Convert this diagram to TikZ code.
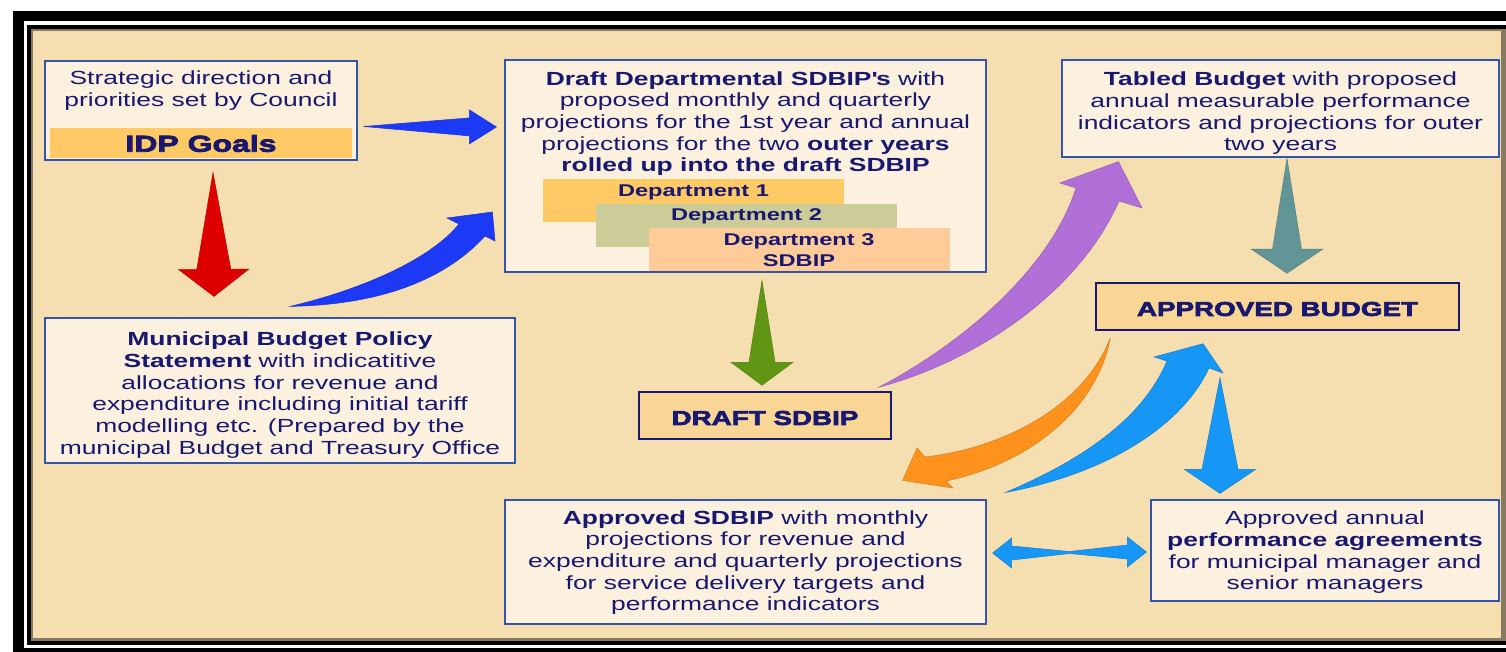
\documentclass[tikz,border=0pt]{standalone}
\usepackage{fontspec}
\setmainfont{Liberation Sans}[FakeStretch=1.39]
\newfontfamily\heavyfont{Liberation Sans}[FakeStretch=1.39,FakeBold=3.5]
\usetikzlibrary{calc,positioning}

\definecolor{pagebeige}{RGB}{245,222,176}
\definecolor{boxcream}{RGB}{251,241,222}
\definecolor{boxline}{RGB}{52,84,170}
\definecolor{navytext}{RGB}{24,24,112}
\definecolor{goalorange}{RGB}{255,201,102}
\definecolor{deptolive}{RGB}{204,204,153}
\definecolor{deptpeach}{RGB}{255,204,153}
\definecolor{keyorange}{RGB}{250,214,150}
\definecolor{royalblue}{RGB}{28,58,245}
\definecolor{skyblue}{RGB}{22,150,245}
\definecolor{arrowred}{RGB}{222,0,0}
\definecolor{arrowgreen}{RGB}{96,150,20}
\definecolor{arrowteal}{RGB}{98,150,150}
\definecolor{arrowpurple}{RGB}{176,112,216}
\definecolor{arroworange}{RGB}{255,146,28}

\tikzset{
  infobox/.style={draw=boxline, fill=boxcream, line width=1.2pt, inner sep=0pt},
  keybox/.style={draw=navytext, fill=keyorange, line width=1.5pt, inner sep=0pt,
    text=navytext, font=\heavyfont\bfseries\fontsize{20}{24}\selectfont,
    execute at begin node={\rule{0pt}{19pt}}},
  bodytext/.style={inner sep=0pt, align=center, text=navytext,
    font=\fontsize{19}{21.7}\selectfont},
  deptbar/.style={inner sep=0pt, minimum width=301pt, minimum height=43pt},
  deptname/.style={inner sep=0pt, align=center, text=navytext,
    font=\bfseries\fontsize{17}{21}\selectfont},
  blockfill/.style={fill=#1, draw=#1!85!black, line width=0.5pt},
}

% tapered block arrow: colour, tail, tip, shaft half width, head half width, head length
\newcommand{\fatarrow}[6]{%
  \coordinate (hb) at ($(#3)!#6!(#2)$);
  \filldraw[blockfill=#1] (#2) -- ($(hb)!#4!90:(#3)$) -- ($(hb)!#5!90:(#3)$) -- (#3)
    -- ($(hb)!#5!-90:(#3)$) -- ($(hb)!#4!-90:(#3)$) -- cycle;}

\begin{document}
\begin{tikzpicture}[x=1pt,y=-1pt]
    \useasboundingbox (0,0) rectangle (1506,652);

    % frame
    \fill[white] (0,0) rectangle (1506,652);
    \fill[black] (13,11) rectangle (1506,652);
    \fill[white] (24,21) rectangle (1506,648);
    \fill[black] (27,25) rectangle (1506,645);
    \fill[black!45!pagebeige] (31,29) rectangle (1506,641);
    \fill[pagebeige] (33,31) rectangle (1501,638);

    % boxes
    \node[infobox, minimum width=312pt, minimum height=99pt] (idp) at (201,110.5) {};
    \node[bodytext] (council) at (201,90.5) {Strategic direction and\\priorities set by Council};
    \node[fill=goalorange, inner sep=0pt, minimum width=302pt, minimum height=30pt, text=navytext,
          font=\heavyfont\bfseries\fontsize{23}{26}\selectfont] (goals) at (201,143.5) {IDP Goals};

    \node[infobox, minimum width=481pt, minimum height=212pt] (draft) at (745.5,166) {};
    \node[bodytext] (drafttext) at (745.5,123.5) {\textbf{Draft Departmental SDBIP\textquotesingle s} with\\
        proposed monthly and quarterly\\projections for the 1st year and annual\\
        projections for the two \textbf{outer years}\\\textbf{rolled up into the draft SDBIP}};
    \node[deptbar, fill=goalorange] (dept1) at (693.5,201) {};
    \node[deptbar, fill=deptolive] (dept2) at (746.5,225.5) {};
    \node[deptbar, fill=deptpeach] (dept3) at (799,249.5) {};
    \node[deptname, below=5pt of dept1.north] (dept1name) {Department 1};
    \node[deptname, below=5pt of dept2.north] (dept2name) {Department 2};
    \node[deptname] (dept3name) at (799,250.5) {Department 3\\SDBIP};

    \node[infobox, minimum width=437pt, minimum height=97pt] (tabled) at (1280.5,108.5) {};
    \node[bodytext] (tabledtext) at (1280.5,113.3) {\textbf{Tabled Budget} with proposed\\
        annual measurable performance\\indicators and projections for outer\\two years};
    \node[keybox, minimum width=363pt, minimum height=47pt] (apbudget) at (1277.5,306.5) {APPROVED BUDGET};

    \node[infobox, minimum width=470pt, minimum height=145pt] (mbps) at (280,390.5) {};
    \node[bodytext] (mbpstext) at (280,395) {\textbf{Municipal Budget Policy}\\
        \textbf{Statement} with indicatitive\\allocations for revenue and\\
        expenditure including initial tariff\\modelling etc. (Prepared by the\\
        municipal Budget and Treasury Office};
    \node[keybox, minimum width=252pt, minimum height=47pt] (draftsdbip) at (765,415.5) {DRAFT SDBIP};

    \node[infobox, minimum width=481pt, minimum height=124pt] (apsdbip) at (745.5,562) {};
    \node[bodytext] (apsdbiptext) at (745.5,562.6) {\textbf{Approved SDBIP} with monthly\\
        projections for revenue and\\expenditure and quarterly projections\\
        for service delivery targets and\\performance indicators};
    \node[infobox, minimum width=348pt, minimum height=101pt] (perf) at (1325,550.5) {};
    \node[bodytext] (perftext) at (1325,552.3) {Approved annual\\\textbf{performance agreements}\\
        for municipal manager and\\senior managers};

    % straight arrows
    \coordinate (goalsout) at ($(idp.east)+(6,16)$);
    \coordinate (draftin) at ($(draft.west)+(-8,-39)$);
    \fatarrow{royalblue}{goalsout}{draftin}{9pt}{17pt}{27pt}

    \coordinate (idpout) at ($(idp.south)+(12,12)$);
    \coordinate (mbpsin) at ($(mbps.north)+(-66,-21)$);
    \fatarrow{arrowred}{idpout}{mbpsin}{17pt}{35pt}{27pt}

    \coordinate (draftout) at ($(draft.south)+(16.5,8)$);
    \coordinate (sdbipin) at ($(draftsdbip.north)+(-3,-6)$);
    \fatarrow{arrowgreen}{draftout}{sdbipin}{13pt}{31pt}{23pt}

    \coordinate (tabledout) at ($(tabled.south)+(6.5,1)$);
    \coordinate (budgetin) at ($(apbudget.north)+(9.5,-9)$);
    \fatarrow{arrowteal}{tabledout}{budgetin}{14.5pt}{35.5pt}{24pt}

    \coordinate (budgetout) at ($(apbudget.south)+(-57.5,47)$);
    \coordinate (perfin) at ($(perf.north)+(-105,-6)$);
    \fatarrow{skyblue}{budgetout}{perfin}{18pt}{35.5pt}{24pt}

    % curved arrows
    \coordinate (mbpsout) at ($(mbps.north)+(10,-11)$);
    \coordinate (draftin2) at ($(draft.west)+(-12,46)$);
    \filldraw[blockfill=royalblue] (mbpsout) .. controls (360,290) and (430,260) .. (459,224)
        -- (447,218) -- (draftin2) -- (495,241) -- (485,236)
        .. controls (440,285) and (370,305) .. (mbpsout) -- cycle;

    \coordinate (sdbipout) at ($(draftsdbip.north east)+(-13,-4)$);
    \coordinate (tabledin) at ($(tabled.south west)+(57,4)$);
    \filldraw[blockfill=arrowpurple] (sdbipout) .. controls (960,345) and (1050,270) .. (1076,188)
        -- (1060,183) -- (tabledin) -- (1142,208) -- (1119,201)
        .. controls (1080,290) and (980,360) .. (sdbipout) -- cycle;

    \coordinate (budgetout2) at ($(apbudget.south west)+(15,7)$);
    \coordinate (apsdbipin) at ($(apsdbip.north east)+(-84,-19)$);
    \filldraw[blockfill=arroworange] (budgetout2) .. controls (1085,405) and (1005,448) .. (925,457)
        -- (917,448) -- (apsdbipin) -- (953,488) -- (946,481)
        .. controls (1035,462) and (1098,405) .. (budgetout2) -- cycle;

    \coordinate (apsdbipout) at ($(apsdbip.north east)+(19,-7)$);
    \coordinate (budgetin2) at ($(apbudget.south)+(-74.5,13)$);
    \filldraw[blockfill=skyblue] (apsdbipout) .. controls (1070,465) and (1140,425) .. (1167,361)
        -- (1154,357) -- (budgetin2) -- (1223,373) -- (1209,368)
        .. controls (1180,430) and (1100,475) .. (apsdbipout) -- cycle;

    % two way arrow
    \coordinate (sdbipside) at ($(apsdbip.east)+(6,-9)$);
    \coordinate (perfside) at ($(perf.west)+(-4,1.5)$);
    \filldraw[blockfill=skyblue] (sdbipside) -- ++(19,-15) -- ++(0,8)
        -- ($(sdbipside)!.5!(perfside)+(0,-1)$) -- ($(perfside)+(-19,-7)$) -- ++(0,-8)
        -- (perfside) -- ++(-19,15) -- ++(0,-8)
        -- ($(sdbipside)!.5!(perfside)+(0,1)$) -- ($(sdbipside)+(19,7)$) -- ++(0,8) -- cycle;

\end{tikzpicture}
\end{document}
